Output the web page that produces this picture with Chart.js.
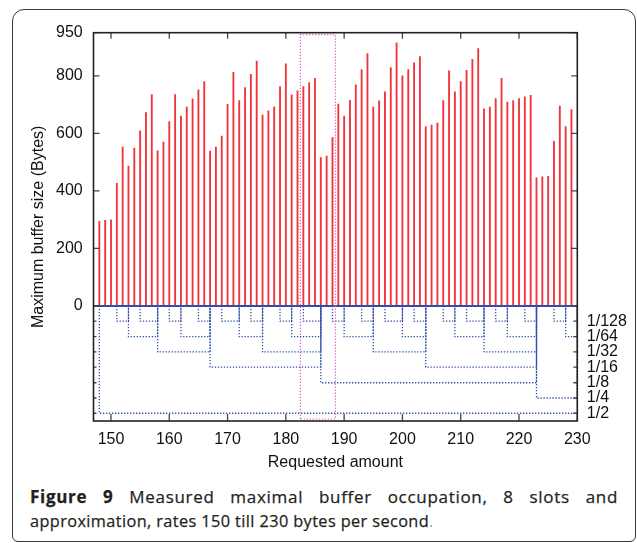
<!DOCTYPE html>
<html>
<head>
<meta charset="utf-8">
<title>Figure 9</title>
<script src="https://cdn.jsdelivr.net/npm/chart.js@4.4.3/dist/chart.umd.min.js"></script>
<style>
  html, body { margin: 0; padding: 0; background: #fff; }
  body { width: 637px; height: 543px; position: relative; overflow: hidden; }
  .frame { position: absolute; left: 12px; top: 9px; width: 624px; height: 533px; box-sizing: border-box;
           border: 1.5px solid #3a3a3a; border-radius: 12px 12px 6px 6px; }
  #chart { position: absolute; left: 0; top: 0; }
  .caption { position: absolute; left: 30px; width: 588px; font-family: "Open Sans", sans-serif; font-size: 16.3px;
             line-height: 24px; color: #231f20; letter-spacing: 0.4px; white-space: nowrap;
             -webkit-text-stroke: 0.25px #231f20; }
  .l1 { top: 485px; font-size: 17px; letter-spacing: 0.7px; text-align: justify; text-align-last: justify; white-space: normal; }
  .l2 { top: 509px; }
  .dot { color: #999; -webkit-text-stroke: 0; }
</style>
</head>
<body>
<div class="frame"></div>
<canvas id="chart" width="637" height="480"></canvas>
<div class="caption l1"><b>Figure 9</b> Measured maximal buffer occupation, 8 slots and</div>
<div class="caption l2">approximation, rates 150 till 230 bytes per second<span class="dot">.</span></div>
<script>
// axis ranges
const xMin = 147, xMax = 230;
const yMin = -400, yMax = 950;
const xTickValues = [150, 160, 170, 180, 190, 200, 210, 220, 230];
const yTickValues = [0, 200, 400, 600, 800, 950];

// measured maximum buffer size per requested rate
const rates = [148, 149, 150, 151, 152, 153, 154, 155, 156, 157, 158, 159, 160, 161, 162, 163, 164, 165, 166, 167,
  168, 169, 170, 171, 172, 173, 174, 175, 176, 177, 178, 179, 180, 181, 182, 183, 184, 185, 186, 187, 188, 189,
  190, 191, 192, 193, 194, 195, 196, 197, 198, 199, 200, 201, 202, 203, 204, 205, 206, 207, 208, 209, 210, 211,
  212, 213, 214, 215, 216, 217, 218, 219, 220, 221, 222, 223, 224, 225, 226, 227, 228, 229];
const bufferMax = [294, 298, 299, 426, 552, 486, 549, 609, 672, 735, 539, 570, 641, 735, 660, 691, 720, 751, 780, 538,
  552, 591, 701, 812, 714, 759, 805, 851, 664, 678, 692, 763, 842, 734, 748, 763, 777, 791, 516, 521, 585, 702,
  660, 715, 769, 822, 877, 691, 713, 744, 829, 915, 800, 822, 845, 867, 624, 629, 636, 714, 817, 744, 780, 819,
  857, 895, 685, 691, 721, 791, 709, 714, 721, 727, 732, 445, 449, 451, 572, 695, 624, 683];

// approximation levels (right axis) and where each level starts
const levelLabels = ["1/128", "1/64", "1/32", "1/16", "1/8", "1/4", "1/2"];
const levelValues = [-53, -107, -160, -213, -267, -320, -373];
const breakRates = [148, 151, 153, 155, 158, 160, 162, 165, 167, 169, 172, 174, 176, 179, 181, 183, 186, 188,
  190, 193, 195, 197, 200, 202, 204, 207, 209, 211, 214, 216, 218, 221, 223, 226, 228];
const breakLevel = [6, 0, 1, 0, 2, 0, 1, 0, 3, 0, 1, 0, 2, 0, 1, 0, 4, 0,
  1, 0, 2, 0, 1, 0, 3, 0, 1, 0, 2, 0, 1, 0, 5, 0, 1];

// highlighted region
const boxRates = [182.5, 188.5];
const boxSpan = [-393, 943];

const RED = "#f0343b";
const BLUE = "#2f4fae";
const PINK = "#d260c6";
const AXIS = "#222";
const TXT = "#111";
const FONT = "'Liberation Sans', Arial, sans-serif";

const steps = breakRates.map((r, i) => {
  const lv = breakLevel[i];
  let j = i + 1;
  while (j < breakRates.length && breakLevel[j] < lv) j++;
  const end = j < breakRates.length ? breakRates[j] : xMax;
  const y = levelValues[lv];
  return {
    type: "line",
    data: [{ x: r, y: 0 }, { x: r, y }, { x: end, y }, { x: end, y: 0 }],
    borderColor: BLUE, borderWidth: 1.3, borderDash: [1.3, 1.7],
    pointRadius: 0, fill: false, tension: 0, order: 2,
  };
});

const datasets = [
  {
    type: "line",
    data: [{ x: boxRates[0], y: boxSpan[0] }, { x: boxRates[0], y: boxSpan[1] }, { x: boxRates[1], y: boxSpan[1] },
           { x: boxRates[1], y: boxSpan[0] }, { x: boxRates[0], y: boxSpan[0] }],
    borderColor: PINK, borderWidth: 1.2, borderDash: [1.2, 1.8], pointRadius: 0, fill: false, order: 0,
  },
  {
    type: "line",
    data: [{ x: xMin, y: 0 }, { x: xMax, y: 0 }],
    borderColor: BLUE, borderWidth: 2, pointRadius: 0, fill: false, order: 1,
  },
  ...steps,
  {
    type: "bar",
    data: rates.map((r, i) => ({ x: r, y: bufferMax[i] })),
    backgroundColor: RED, barThickness: 1.2, order: 10,
  },
];

const frameTicks = {
  id: "frameTicks",
  afterDatasetsDraw(chart) {
    const { ctx, chartArea: a, scales } = chart;
    ctx.save();
    ctx.strokeStyle = "#444";
    ctx.lineWidth = 1.3;
    ctx.beginPath();
    xTickValues.forEach((v) => {
      const px = scales.x.getPixelForValue(v);
      ctx.moveTo(px, a.bottom); ctx.lineTo(px, a.bottom - 7);
      ctx.moveTo(px, a.top); ctx.lineTo(px, a.top + 6);
    });
    yTickValues.forEach((v) => {
      const py = scales.y.getPixelForValue(v);
      ctx.moveTo(a.left, py); ctx.lineTo(a.left + 6, py);
      ctx.moveTo(a.right, py); ctx.lineTo(a.right - 6, py);
    });
    levelValues.forEach((v) => {
      const py = scales.y.getPixelForValue(v);
      ctx.moveTo(a.left, py); ctx.lineTo(a.left + 3, py);
      ctx.moveTo(a.right, py); ctx.lineTo(a.right - 4, py);
    });
    ctx.stroke();
    ctx.strokeStyle = AXIS;
    ctx.lineWidth = 1.6;
    ctx.strokeRect(a.left, a.top, a.right - a.left, a.bottom - a.top);
    ctx.restore();
  },
};

const tickFont = { family: FONT, size: 16 };
const hidden = { display: false, drawTicks: false };

new Chart(document.getElementById("chart"), {
  type: "bar",
  data: { datasets },
  plugins: [frameTicks],
  options: {
    responsive: false,
    animation: false,
    events: [],
    layout: { padding: 0 },
    plugins: { legend: { display: false }, tooltip: { enabled: false } },
    scales: {
      x: {
        type: "linear", position: "bottom", min: xMin, max: xMax, offset: false,
        grid: hidden, border: { display: false },
        afterBuildTicks: (s) => { s.ticks = xTickValues.map((v) => ({ value: v })); },
        afterFit: (s) => { s.height = 59; },
        ticks: { autoSkip: false, maxRotation: 0, padding: 9, color: TXT, font: tickFont },
        title: { display: true, text: "Requested amount", color: TXT, font: tickFont, padding: { top: 0, bottom: 7.8 } },
      },
      x2: {
        type: "linear", position: "top", axis: "x", min: xMin, max: xMax, offset: false,
        grid: hidden, border: { display: false }, ticks: { display: false },
        afterFit: (s) => { s.height = 32.7; },
      },
      y: {
        type: "linear", position: "left", min: yMin, max: yMax,
        grid: hidden, border: { display: false },
        afterBuildTicks: (s) => { s.ticks = yTickValues.map((v) => ({ value: v })); },
        afterFit: (s) => { s.width = 93.5; },
        ticks: { autoSkip: false, padding: 10.8, color: TXT, font: tickFont, callback: (v) => String(v) },
        title: { display: true, text: "Maximum buffer size (Bytes)", color: TXT, font: tickFont, padding: { top: 28.6, bottom: 0 } },
      },
      y2: {
        type: "linear", position: "right", axis: "y", min: yMin, max: yMax,
        grid: hidden, border: { display: false },
        afterBuildTicks: (s) => { s.ticks = levelValues.map((v) => ({ value: v })); },
        afterFit: (s) => { s.width = 59.7; },
        ticks: { autoSkip: false, padding: 9.5, color: TXT, font: tickFont,
                 callback: (v) => levelLabels[levelValues.indexOf(v)] },
      },
    },
  },
});
</script>
</body>
</html>
